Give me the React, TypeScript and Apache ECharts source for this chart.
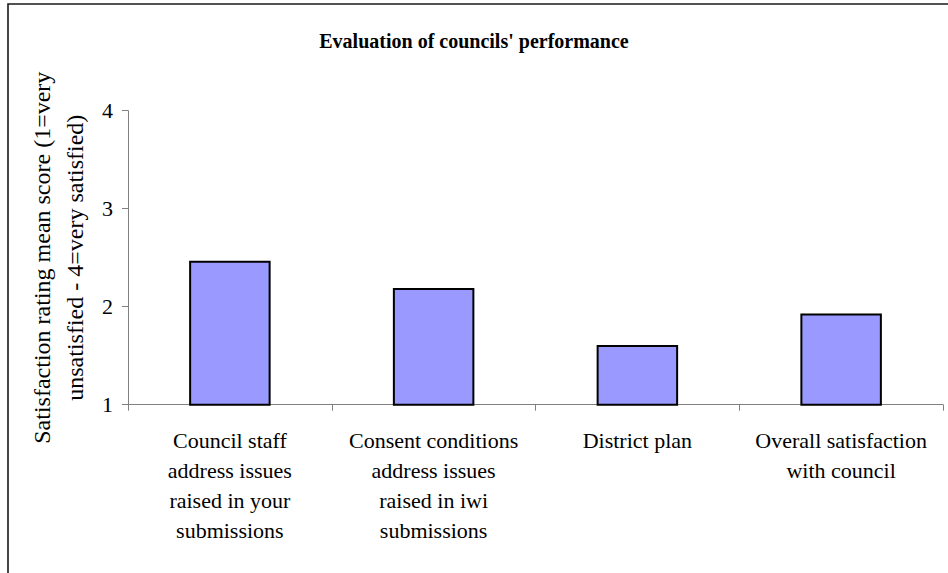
import React, { useEffect, useRef } from "react";
import * as echarts from "echarts";

const titleText = "Evaluation of councils' performance";
const yAxisTitle = "Satisfaction rating mean score (1=very\nunsatisfied - 4=very satisfied)";
const categories = [
  "Council staff\naddress issues\nraised in your\nsubmissions",
  "Consent conditions\naddress issues\nraised in iwi\nsubmissions",
  "District plan",
  "Overall satisfaction\nwith council",
];
const meanScores = [2.47, 2.19, 1.61, 1.93];
const yMin = 1;
const yMax = 4;
const yInterval = 1;

const FONT = "'Liberation Serif', 'Times New Roman', serif";

export default function App() {
  const ref = useRef<HTMLDivElement>(null);
  useEffect(() => {
    if (!ref.current) return;
    const chart = echarts.init(ref.current, null, { renderer: "svg" });
    chart.setOption({
      animation: false,
      backgroundColor: "#ffffff",
      title: {
        text: titleText,
        left: "center",
        top: 26,
        textStyle: { fontFamily: FONT, fontSize: 20, fontWeight: "bold", color: "#000" },
      },
      graphic: [
        {
          type: "rect",
          shape: { x: 8, y: 4, width: 1200, height: 1000 },
          style: { fill: "none", stroke: "#1a1a1a", lineWidth: 1.6 },
          silent: true,
        },
      ],
      grid: { left: 128, right: 5, top: 110.7, bottom: 168.3, containLabel: false },
      xAxis: {
        type: "category",
        data: categories,
        axisLine: { lineStyle: { color: "#808080", width: 1 } },
        axisTick: { show: true, length: 6, lineStyle: { color: "#808080" } },
        axisLabel: {
          interval: 0,
          margin: 21,
          fontFamily: FONT,
          fontSize: 22,
          lineHeight: 30,
          color: "#000",
          align: "center",
        },
      },
      yAxis: {
        type: "value",
        min: yMin,
        max: yMax,
        interval: yInterval,
        name: yAxisTitle,
        nameLocation: "middle",
        nameGap: 36,
        nameTextStyle: { fontFamily: FONT, fontSize: 24, lineHeight: 33, color: "#000" },
        splitLine: { show: false },
        axisLine: { show: true, lineStyle: { color: "#808080", width: 1 } },
        axisTick: { show: true, length: 6, lineStyle: { color: "#808080" } },
        axisLabel: { fontFamily: FONT, fontSize: 22, color: "#000", margin: 15 },
      },
      series: [
        {
          type: "bar",
          data: meanScores,
          barWidth: "40%",
          itemStyle: { color: "#9999ff", borderColor: "#000", borderWidth: 2 },
        },
      ],
    });
    return () => chart.dispose();
  }, []);
  return (
    <div
      ref={ref}
      style={{ position: "fixed", left: 0, top: 0, width: 948, height: 573 }}
    />
  );
}
